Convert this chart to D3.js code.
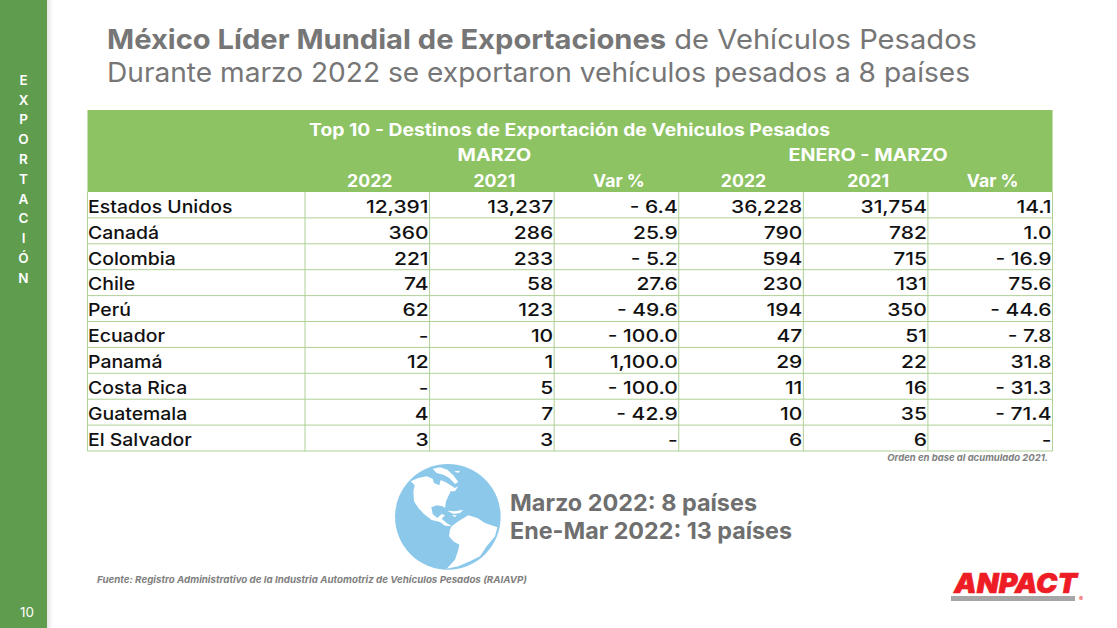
<!DOCTYPE html>
<html>
<head>
<meta charset="utf-8">
<script src="https://cdnjs.cloudflare.com/ajax/libs/d3/7.8.5/d3.min.js"></script>
<style>
  html, body { margin: 0; padding: 0; background: #fff; }
  svg { display: block; font-family: Inter, "Open Sans", sans-serif; }
</style>
</head>
<body>
<svg width="1117" height="628"></svg>
<script>
const section = "EXPORTACIÓN".split("");
const pageNumber = "10";
const tableTitle = "Top 10 - Destinos de Exportación de Vehiculos Pesados";
const groupLabels = ["MARZO", "ENERO - MARZO"];
const columnLabels = ["2022", "2021", "Var %", "2022", "2021", "Var %"];
const countries = ["Estados Unidos", "Canadá", "Colombia", "Chile", "Perú", "Ecuador", "Panamá", "Costa Rica", "Guatemala", "El Salvador"];
const mar2022 = ["12,391", "360", "221", "74", "62", "-", "12", "-", "4", "3"];
const mar2021 = ["13,237", "286", "233", "58", "123", "10", "1", "5", "7", "3"];
const marVar = ["- 6.4", "25.9", "- 5.2", "27.6", "- 49.6", "- 100.0", "1,100.0", "- 100.0", "- 42.9", "-"];
const ytd2022 = ["36,228", "790", "594", "230", "194", "47", "29", "11", "10", "6"];
const ytd2021 = ["31,754", "782", "715", "131", "350", "51", "22", "16", "35", "6"];
const ytdVar = ["14.1", "1.0", "- 16.9", "75.6", "- 44.6", "- 7.8", "31.8", "- 31.3", "- 71.4", "-"];
const seriesColumns = [mar2022, mar2021, marVar, ytd2022, ytd2021, ytdVar];

// globe outlines, traced on a 345 unit square around the globe
const northAmerica = [[62,70],[85,60],[110,55],[128,62],[132,75],[148,82],[152,66],[170,74],[195,90],[205,85],[195,100],[182,100],[175,115],[168,130],[165,150],[158,145],[140,142],[124,148],[128,168],[142,180],[155,168],[165,172],[155,182],[170,195],[185,205],[165,203],[150,192],[125,186],[102,168],[85,150],[72,130],[70,100],[74,82]];
const southAmerica = [[185,205],[205,190],[235,172],[262,180],[285,195],[322,208],[315,235],[290,265],[270,295],[240,310],[205,325],[170,332],[195,305],[205,275],[208,260],[190,250],[177,235],[180,215]];
const arcticIslands = [[128,32],[150,28],[172,35],[190,52],[205,72],[195,78],[178,60],[160,50],[140,45]];
const greenland = [[192,40],[210,38],[205,45]];
const cuba = [[172,158],[195,160],[220,155],[210,165],[190,168]];
const hispaniola = [[185,172],[200,172],[195,178]];

const svg = d3.select("svg");

// widen the glyphs a bit, the installed fonts run narrower than the original
const stretch = (sel, factor) => sel
  .attr("lengthAdjust", "spacingAndGlyphs")
  .attr("textLength", function() { return this.getComputedTextLength() * factor; });

const defs = svg.append("defs");
const shade = defs.append("linearGradient").attr("id", "shade");
shade.append("stop").attr("offset", 0).attr("stop-color", "#000").attr("stop-opacity", 0.1);
shade.append("stop").attr("offset", 1).attr("stop-color", "#000").attr("stop-opacity", 0);

// sidebar
svg.append("rect").attr("x", 47).attr("y", 0).attr("width", 6).attr("height", 628).attr("fill", "url(#shade)");
svg.append("rect").attr("width", 47).attr("height", 628).attr("fill", "#5f9c4e");
const letterY = d3.scalePoint().domain(d3.range(section.length)).range([80, 278]);
svg.append("g").selectAll("text").data(section).join("text")
  .attr("x", 23.5)
  .attr("y", (d, i) => letterY(i))
  .attr("dy", "0.36em")
  .attr("text-anchor", "middle")
  .attr("fill", "#fff")
  .attr("font-size", 13.5)
  .attr("font-weight", 600)
  .text(d => d);
svg.append("text").attr("x", 27).attr("y", 617).attr("text-anchor", "middle")
  .attr("fill", "#fff").attr("font-size", 13.5).text(pageNumber);

// heading
const heading = svg.append("text").attr("x", 107).attr("y", 49)
  .attr("fill", "#767676").attr("font-size", 27.5)
  .attr("textLength", 870).attr("lengthAdjust", "spacingAndGlyphs");
heading.append("tspan").attr("font-weight", 700).text("México Líder Mundial de Exportaciones");
heading.append("tspan").text(" de Vehículos Pesados");
svg.append("text").attr("x", 107).attr("y", 82)
  .attr("fill", "#767676").attr("font-size", 27.5)
  .attr("textLength", 863).attr("lengthAdjust", "spacingAndGlyphs")
  .text("Durante marzo 2022 se exportaron vehículos pesados a 8 países");

// table
const tableLeft = 87.5, tableRight = 1052.5, headTop = 110, bodyTop = 192, bodyBottom = 451;
const firstColRight = 305;
const colX = d3.scaleBand().domain(d3.range(6)).range([firstColRight, tableRight]);
const rowY = d3.scaleBand().domain(countries).range([bodyTop, bodyBottom]);
const headY = d3.scalePoint().domain(["title", "group", "column"]).range([129.5, 180.5]);

svg.append("rect").attr("x", tableLeft).attr("y", headTop)
  .attr("width", tableRight - tableLeft).attr("height", bodyTop - headTop).attr("fill", "#8dc363");

const headText = svg.append("g").attr("fill", "#fff").attr("font-weight", 700)
  .attr("text-anchor", "middle").attr("font-size", 17);
headText.append("text").attr("x", 569.5).attr("y", headY("title")).attr("dy", "0.36em")
  .attr("textLength", 521).attr("lengthAdjust", "spacingAndGlyphs").text(tableTitle);
headText.selectAll(".group").data(groupLabels).join("text")
  .attr("class", "group")
  .attr("x", (d, i) => colX(i * 3) + colX.bandwidth() * 1.5 + 2.5)
  .attr("y", headY("group")).attr("dy", "0.36em")
  .text(d => d)
  .call(stretch, 1.16);
headText.selectAll(".col").data(columnLabels).join("text")
  .attr("class", "col")
  .attr("x", (d, i) => colX(i) + colX.bandwidth() / 2 + 2.5)
  .attr("y", headY("column")).attr("dy", "0.36em")
  .text(d => d)
  .call(stretch, 1.04);

// grid
const grid = svg.append("g").attr("stroke", "#afd195").attr("stroke-width", 1);
grid.selectAll(".h").data(countries).join("line").attr("class", "h")
  .attr("x1", tableLeft).attr("x2", tableRight)
  .attr("y1", d => rowY(d) + rowY.bandwidth()).attr("y2", d => rowY(d) + rowY.bandwidth());
grid.selectAll(".v").data([tableLeft, firstColRight].concat(colX.domain().map(i => colX(i) + colX.bandwidth()))).join("line").attr("class", "v")
  .attr("x1", d => d).attr("x2", d => d).attr("y1", bodyTop).attr("y2", bodyBottom);

// body
const body = svg.append("g").attr("fill", "#111").attr("font-size", 17.5).attr("font-weight", 500);
body.selectAll(".country").data(countries).join("text").attr("class", "country")
  .attr("x", tableLeft + 0.5)
  .attr("y", d => rowY(d) + rowY.bandwidth() / 2 + 1.5)
  .attr("dy", "0.36em")
  .text(d => d)
  .call(stretch, 1.11);
seriesColumns.forEach((values, c) => {
  body.append("g").attr("text-anchor", "end").selectAll("text").data(values).join("text")
    .attr("x", colX(c) + colX.bandwidth() - 1)
    .attr("y", (d, i) => rowY(countries[i]) + rowY.bandwidth() / 2 + 1.5)
    .attr("dy", "0.36em")
    .text(d => d)
    .call(stretch, 1.2);
});

svg.append("text").attr("x", 1048).attr("y", 461).attr("text-anchor", "end")
  .attr("fill", "#808080").attr("font-size", 9.5).attr("font-weight", 700).attr("font-style", "italic")
  .text("Orden en base al acumulado 2021.");

// globe
const globeX = d3.scaleLinear().domain([0, 345]).range([390, 505]);
const globeY = d3.scaleLinear().domain([0, 345]).range([458, 573]);
const landLine = d3.line().x(d => globeX(d[0])).y(d => globeY(d[1])).curve(d3.curveLinearClosed);
svg.append("circle").attr("cx", globeX(173.5)).attr("cy", globeY(176.5))
  .attr("r", globeX(158.5) - globeX(0)).attr("fill", "#8cc8ea");
svg.append("g").selectAll("path")
  .data([northAmerica, southAmerica, arcticIslands, greenland, cuba, hispaniola])
  .join("path")
  .attr("d", landLine)
  .attr("fill", "#fff");

svg.append("text").attr("x", 510).attr("y", 511).attr("fill", "#6f6f6f")
  .attr("font-size", 23.5).attr("font-weight", 700)
  .attr("textLength", 247).attr("lengthAdjust", "spacingAndGlyphs").text("Marzo 2022: 8 países");
svg.append("text").attr("x", 510).attr("y", 539).attr("fill", "#6f6f6f")
  .attr("font-size", 23.5).attr("font-weight", 700)
  .attr("textLength", 282).attr("lengthAdjust", "spacingAndGlyphs").text("Ene-Mar 2022: 13 países");

svg.append("text").attr("x", 97).attr("y", 583)
  .attr("fill", "#808080").attr("font-size", 9.5).attr("font-weight", 700).attr("font-style", "italic")
  .attr("textLength", 430).attr("lengthAdjust", "spacingAndGlyphs")
  .text("Fuente: Registro Administrativo de la Industria Automotriz de Vehículos Pesados (RAIAVP)");

// logo
svg.append("text").attr("x", 954).attr("y", 593)
  .attr("fill", "#ee1c25").attr("stroke", "#ee1c25").attr("stroke-width", 0.6)
  .attr("font-size", 27.5).attr("font-weight", 900).attr("font-style", "italic")
  .attr("textLength", 123).attr("lengthAdjust", "spacingAndGlyphs")
  .text("ANPACT");
svg.append("rect").attr("x", 951).attr("y", 596).attr("width", 124).attr("height", 5).attr("fill", "#a6a6a6");
svg.append("text").attr("x", 1081).attr("y", 601).attr("text-anchor", "middle")
  .attr("fill", "#ee1c25").attr("font-size", 6).text("®");
</script>
</body>
</html>
